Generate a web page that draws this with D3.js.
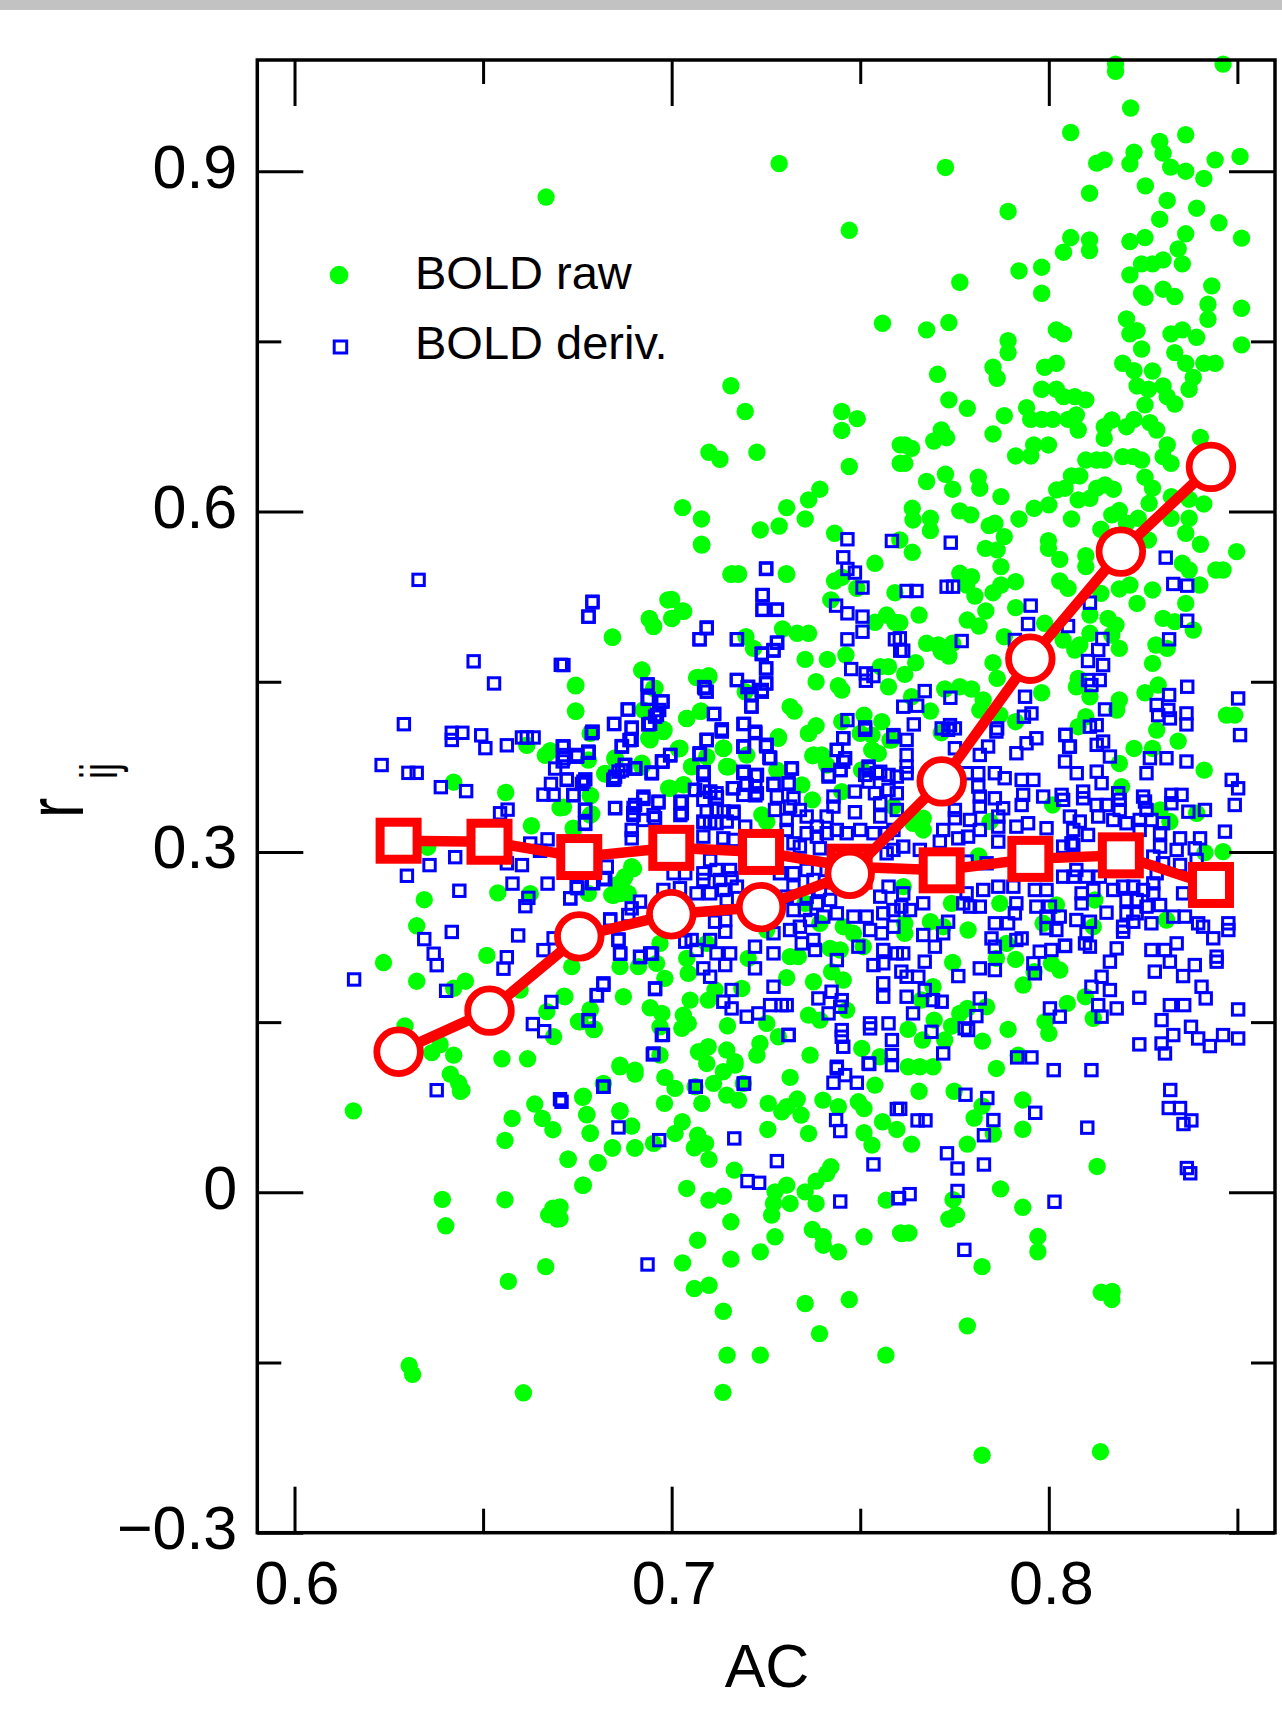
<!DOCTYPE html>
<html>
<head>
<meta charset="utf-8">
<title>r_ij vs AC</title>
<script src="https://cdn.jsdelivr.net/npm/d3@7"></script>
<style>
  html, body { margin: 0; padding: 0; background: #fff; }
  svg { display: block; }
  text { font-family: "Liberation Sans", Arial, sans-serif; fill: #000; }
</style>
</head>
<body>
<svg id="chart" width="1282" height="1717"></svg>
<script>
// values: [AC, r_ij]
const rawTop = [[.8177,.9944],[.8177,.9881],[.8462,.9944],[.8217,.9557],[.6667,.8772],[.7285,.9068],[.7471,.8479],[.7559,.766],[.7157,.7109],[.7195,.6882],[.7451,.6882],[.7492,.6819],[.7451,.6715],
[.7726,.9033],[.7892,.8645],[.8108,.8806],[.8058,.9341],[.8127,.9071],[.8147,.91],[.8215,.9065],[.8226,.9168],[.8294,.9262],[.8303,.9159],[.8363,.9321],[.8323,.9036],[.8363,.9],[.8441,.91],[.8411,.8936],[.8507,.913],[.8256,.8871],[.8314,.8742],[.8392,.8674],[.8294,.8577],[.8451,.8545],[.8363,.8448],[.8511,.841],[.8255,.8415],[.8215,.838],[.8058,.8415],[.8108,.8395],[.8108,.8301],[.8039,.8286],[.7981,.8154],[.7921,.8121],[.7764,.8021],[.7981,.7924],[.8343,.8315],[.8303,.8218],[.8275,.8183],[.8246,.8183],[.8354,.8183],[.8215,.8086],[.8432,.7989],[.8303,.796],[.8334,.7895],[.8246,.7924],[.8255,.7889],[.8422,.7827],[.8422,.7695],[.8511,.7792],[.8206,.7698],[.7735,.7666],[.7676,.7601],[.802,.7601],[.8039,.7566],[.8234,.7595],[.8215,.7566],[.8324,.7566],[.8354,.7601],[.8392,.7536],[.8246,.7433],[.8511,.7469],[.7892,.7507],[.7892,.7401],[.8334,.7401],[.8363,.7307],[.8196,.7307],[.8226,.7242],[.8275,.7239],[.8411,.7307],[.8441,.7307],[.802,.7307],[.7989,.7272],[.7852,.7272],[.7863,.7175],[.7705,.721],[.8383,.7183],[.8372,.7078],[.8303,.7107],[.8234,.7107],[.8264,.7078],[.8314,.7013],[.8255,.694],[.8334,.6948],[.7981,.7078],[.802,.7078],[.8039,.7013],[.8069,.7013],[.8098,.6984],[.7735,.6984],[.7784,.691],[.7941,.6916],[.7882,.6845],[.7952,.6813],[.7981,.6813],[.801,.6813],[.8051,.6813],[.8073,.6851],[.8078,.6719],[.7852,.6684],[.7715,.6719],[.7729,.6651],[.7695,.6622],[.7618,.6587],[.7636,.6557],[.8147,.6748],[.8167,.6807],[.8147,.6645],[.8206,.6748],[.8226,.6813],[.8268,.6784],[.8286,.6719],[.8402,.6654],[.8314,.6587],[.7999,.6587],[.796,.6587],[.7952,.649],[.7912,.649],[.7618,.6425],[.8098,.6454],[.8127,.6454],[.8147,.6454],[.8196,.6484],[.8224,.6484],[.8246,.6454],[.8303,.6484],[.8324,.6425]];

const rawUpperRight = [[.7676,.6265],[.7726,.6329],[.7745,.6197],[.7813,.6303],[.7817,.6206],[.7873,.6132],[.7638,.6029],[.764,.5926],[.7686,.5941],[.7686,.5832],[.7764,.6006],[.7793,.5971],[.7842,.5876],[.7857,.5897],[.7921,.5935],[.7882,.5779],[.7832,.5676],[.7863,.5662],[.7605,.575],[.7638,.5641],[.7961,.6029],[.8,.6059],[.8021,.6191],[.8043,.6206],[.806,.6314],[.8082,.6314],[.8078,.6103],[.8109,.6117],[.8127,.6206],[.8149,.6235],[.8171,.6197],[.806,.5935],[.8138,.5844],[.8167,.5971],[.8187,.6009],[.8237,.5941],[.8275,.6206],[.8255,.6303],[.8266,.6073],[.8325,.6132],[.8372,.6109],[.8411,.6067],[.8324,.5941],[.8372,.5941],[.8363,.5809],[.8402,.5712],[.8498,.5647],[.7999,.5744],[.7999,.5676],[.8029,.5579],[.8098,.5612],[.8098,.5515],[.8206,.5897],[.8264,.575],[.7764,.5456],[.7795,.5426],[.7782,.5353],[.7804,.5256],[.7852,.5285],[.7873,.5353],[.7912,.5382],[.7873,.5515],[.8029,.5388],[.8051,.5324],[.8187,.5318],[.8215,.5353],[.8275,.5309],[.8234,.5191],[.8354,.5544],[.8372,.5485],[.8443,.5485],[.8462,.5485],[.84,.5353],[.8363,.5191],[.8138,.5279],[.8109,.5088],[.8157,.5059],[.8178,.5],[.8167,.4912],[.8187,.4794],[.8109,.4927],[.8069,.478],[.8082,.4824],[.8038,.4868],[.7989,.5015],[.7912,.5153],[.7833,.5124],[.7784,.5044],[.7815,.4991],[.7656,.5088],[.7605,.5021],[.7882,.4897],[.7676,.4839],[.7707,.4824],[.7735,.4727],[.7715,.4765],[.7745,.4839],[.7647,.4668],[.7618,.4565],[.7852,.4668],[.7863,.453],[.8303,.5059],[.8334,.503],[.8383,.4956],[.8284,.4824],[.8314,.4794],[.8275,.4662],[.7724,.4436],[.7764,.4456],[.7795,.4436],[.7636,.4368],[.7686,.4242],[.7826,.4339],[.7817,.425],[.787,.4207],[.7912,.4148],[.7981,.4403],[.8078,.453],[.8073,.4456],[.8109,.4368],[.8187,.4339],[.818,.425],[.8098,.4192],[.8078,.4104],[.8255,.4403],[.829,.4471],[.8286,.4074],[.8471,.4206],[.8493,.4206],[.8226,.3912],[.8275,.3912],[.8343,.3977],[.7715,.4051],[.8412,.3721],[.8187,.378]];

const rawUpperMid = [[.7099,.6523],[.7128,.6461],[.7226,.6523],[.7471,.6397],[.7606,.6588],[.7606,.6426],[.7393,.6197],[.7363,.6103],[.7305,.6035],[.7354,.5935],[.7285,.5873],[.7235,.5838],[.7029,.6035],[.7079,.5935],[.7079,.5712],[.7432,.5809],[.7157,.5447],[.7177,.5447],[.7305,.5447],[.7539,.5544],[.7432,.5388],[.7451,.5421],[.7491,.5324],[.7422,.5221],[.7592,.5285],[.699,.5221],[.7029,.5124],[.7,.5059],[.6941,.5059],[.6952,.4991],[.6843,.4891],[.7294,.4965],[.7333,.4927],[.7363,.4927],[.7197,.4897],[.7217,.4794],[.7539,.5024],[.757,.5088],[.7592,.5024],[.7354,.4697],[.7413,.4697],[.7462,.4736],[.6921,.4603],[.6745,.4465],[.6952,.4442],[.7066,.4536],[.7099,.4545],[.7383,.45],[.7442,.4465],[.7451,.4427],[.7553,.4633],[.7575,.4633],[.7575,.4456],[.7195,.4412],[.6745,.4242],[.6925,.4251],[.704,.4177],[.7078,.4242],[.7314,.428],[.7325,.4242],[.7383,.4112],[.7363,.4045],[.751,.4206],[.7451,.4148],[.7557,.4148],[.75,.4045],[.7531,.403],[.7283,.4015],[.698,.4074],[.6941,.4001],[.6784,.4045],[.702,.3912],[.7137,.3912],[.7374,.3848],[.7398,.3848],[.7579,.3986],[.7531,.3898],[.7548,.3868],[.685,.3824],[.6779,.381],[.7199,.3854],[.7093,.3839],[.6823,.3692],[.6921,.3751],[.7053,.3751],[.7146,.3751],[.7411,.3766],[.7504,.3721],[.7279,.3721]];

const rawCentre = [[.6943,.3988],[.6978,.4061],[.7022,.3914],[.7137,.3914],[.7283,.4002],[.7363,.4047],[.7376,.3855],[.7398,.3855],[.7531,.39],[.7584,.3988],[.6823,.3688],[.685,.3817],[.6921,.3782],[.6996,.3561],[.7031,.3591],[.7146,.3753],[.7053,.3753],[.7345,.3591],[.7373,.3459],[.7451,.3532],[.7239,.3326],[.7252,.3267],[.6785,.3494],[.6788,.3335],[.6713,.3394],[.6739,.3209],[.7504,.3723],[.7588,.34],[.6894,.2871],[.6876,.2782],[.6854,.2709],[.6841,.2621],[.6885,.2635],[.6779,.2635],[.7354,.2547],[.7393,.2371],[.7455,.2341],[.7482,.2283],[.7508,.2165],[.742,.215],[.7447,.2136],[.7314,.2077],[.7336,.2077],[.7203,.2062],[.7252,.2312],[.704,.2062],[.7044,.193],[.6969,.2194],[.696,.2018],[.6912,.1989],[.6863,.1989],[.6735,.1989],[.6982,.1886],[.7093,.2194],[.7305,.1892],[.7376,.1856],[.7424,.1944],[.7455,.1871],[.6717,.1724],[.6872,.1724],[.7049,.1694],[.7097,.1694],[.7115,.1783],[.7186,.1797],[.6943,.1627],[.6974,.1577],[.7031,.1562],[.7044,.1489],[.7027,.1445],[.6969,.1459],[.7148,.1468],[.7252,.1489],[.7363,.1562],[.7393,.1518],[.7464,.1606],[.7283,.1371],[.6757,.1503],[.6784,.1606],[.6795,.1439],[.7504,.1268],[.7552,.1195],[.7367,.1209],[.7234,.1312],[.7226,.1209],[.7097,.1283],[.7071,.1239],[.7146,.1254],[.7168,.1151],[.7093,.1136],[.6969,.1209],[.6863,.1121],[.6903,.1077]];

const rawLowerRight = [[.8010,.3414],[.8193,.3576],[.8295,.337],[.8321,.3268],[.8392,.3341],[.7844,.3268],[.764,.3253],[.7667,.3194],[.7667,.3297],[.7814,.2965],[.8414,.2994],[.8462,.3003],[.7614,.2694],[.7742,.2547],[.787,.2547],[.802,.2533],[.8122,.2577],[.8312,.24],[.7686,.2385],[.7618,.2371],[.7618,.2283],[.772,.2341],[.7786,.2312],[.7888,.2194],[.7985,.2371],[.8118,.2341],[.7861,.2062],[.7912,.2053],[.7745,.2027],[.8007,.2018],[.8029,.1959],[.7961,.1945],[.7932,.1827],[.8097,.1724],[.8049,.1665],[.7693,.1812],[.7662,.1695],[.7835,.1636],[.7784,.1621],[.7764,.1577],[.7696,.1518],[.7742,.1465],[.8118,.1533],[.799,.1504],[.8,.1401],[.7892,.1436],[.7627,.1436],[.7665,.1342],[.7724,.1342],[.7824,.1333],[.7919,.1209],[.7627,.1107],[.7658,.1107],[.7693,.1107],[.7861,.1092]];

const rawLower = [[.6766,.0848],[.6863,.0719],[.6775,.0687],[.6784,.0519],[.6894,.0584],[.6819,.096],[.6903,.1042],[.6863,.1107],[.6982,.1013],[.7009,.0916],[.6981,.0784],[.708,.0784],[.7062,.0931],[.7111,.096],[.7146,.0857],[.7177,.0813],[.719,.096],[.7137,.1063],[.7168,.1122],[.7256,.0784],[.7292,.071],[.7305,.0754],[.7333,.0822],[.7343,.0681],[.7314,.1013],[.7401,.0813],[.7442,.0754],[.7495,.0798],[.751,.0739],[.7539,.0945],[.7255,.0554],[.7363,.0519],[.7559,.0622],[.7597,.0554],[.751,.0525],[.7531,.0416],[.7028,.0622],[.7009,.0519],[.6952,.0431],[.6903,.0393],[.6843,.0393],[.706,.0393],[.7069,.0504],[.709,.0431],[.7099,.029],[.6726,.0293],[.6804,.026],[.6766,.0063],[.7166,.0196],[.704,.0034],[.7099,-.0069],[.7137,-.0034],[.7157,-.026],[.7069,-.0422],[.7157,-.0589],[.7029,-.0622],[.7235,-.0525],[.7274,-.0392],[.706,-.0848],[.7099,-.0819],[.7137,-.1048],[.7354,-.098],[.7471,-.0945],[.7392,-.1245],[.7373,-.0328],[.7402,-.0392],[.7402,-.0466],[.7442,-.0525],[.751,-.0392],[.761,-.0363],[.7305,.0063],[.7274,.0004],[.7354,.0004],[.7383,.0099],[.7422,.0225],[.7411,.0166],[.7383,-.0098],[.7314,-.0098],[.727,-.0098],[.7265,-.0201],[.7569,-.0069],[.6704,-.0231],[.6704,-.0128],
[.6156,.0718],[.6392,-.0062],[.6401,-.0295],[.6304,-.1527],[.6313,-.1604],[.6607,-.1767],[.6567,-.0785],[.6666,-.0655],[.6558,-.0065],[.6685,-.014],[.6674,-.0199],[.6697,-.0235],[.6764,.0062],[.6558,.0457],[.6577,.0651],[.6637,.0778],[.6657,.0651],[.6685,.0552],[.6784,.0524],[.6725,.0291],[.6805,.026],[.6843,.039],[.6902,.039],[.6775,.0683],[.6863,.0715],[.6764,.0838],[.644,.0891],
[.7607,-.0358],[.7629,-.0358],[.7636,.0425],[.7746,-.0065],[.7755,-.0199],[.7735,-.0235],[.7823,-.0655],[.7784,-.1177],[.7823,-.2317],[.8137,-.2286],[.8139,-.0881],[.8168,-.0874],[.8167,-.0944],[.8128,.0228],[.7971,-.039],[.7971,-.0524],[.7931,-.0132],[.7872,.003],[.7931,.0556],[.7853,.0514],[.7784,.0425],[.7802,.0655],[.7823,.0761],[.7931,.0814],[.7656,.0891],[.7749,.0891],[.7568,-.1435],[.7235,-.1435],[.7147,-.1435],[.7136,-.1763]];

const rawLeft = [[.6293,.1467],[.6236,.2025],[.6344,.2579],[.6324,.2349],[.6324,.1861],[.6422,.3615],[.6353,.3042],[.656,.3524],[.6628,.3231],[.6539,.2639],[.6625,.2632],[.651,.2088],[.6453,.1861],[.6422,.1798],[.6598,.1782],[.6422,.1209],[.6386,.1303],[.6364,.1231],[.6413,.1042],[.6435,.0963],[.6444,.09],[.655,.1177],[.6618,.1177],[.6669,.1593],[.6687,.1372],[.6784,.1609],[.6753,.1505],[.6793,.1435],[.6715,.1728],[.6746,.4469],[.6746,.4239],[.6616,.394],[.6678,.3892],[.6665,.3852],[.6843,.4894],[.7,.5225],[.6941,.5052],[.6952,.4986],[.7001,.5058],[.7032,.5121],[.708,.5704],[.716,.5452],[.7177,.5452],[.7304,.5452],[.6921,.4601],[.6956,.4444],[.7071,.4538],[.7098,.4554],[.704,.4176],[.7076,.4239],[.6978,.4081],[.6939,.4003],[.7018,.3908],[.7138,.3915],[.7151,.3751],[.685,.3829],[.6921,.3766],[.6824,.3688],[.6992,.3562],[.7032,.3593],[.6784,.3499],[.6704,.3388],[.6784,.3325],[.674,.3199],[.6899,.2853],[.6872,.2759],[.6864,.2633],[.6846,.2617]];

const derivLeft = [[.6329,.5398],[.679,.5206],[.678,.5074],[.7251,.5499],[.7241,.5263],[.7241,.5137],[.7279,.5137],[.7093,.4979],[.7074,.4875],[.7173,.4875],[.7279,.4844],[.727,.4774],[.7239,.4743],[.7251,.4617],[.7173,.4516],[.7251,.4485],[.7201,.4453],[.7239,.4428],[.7211,.439],[.7211,.4286],[.6475,.468],[.6529,.4485],[.6706,.4649],[.6936,.4475],[.6939,.4349],[.6976,.4327],[.6961,.4207],[.7086,.4453],[.7093,.4412],[.6883,.4255],[.6848,.4129],[.6894,.4097],[.6943,.4129],[.689,.3987],[.6868,.393],[.7113,.4217],[.7133,.4081],[.7192,.4129],[.7222,.405],[.7192,.393],[.7251,.393],[.7261,.383],[.7093,.3987],[.7074,.3861],[.6996,.3851],[.6976,.3798],[.6948,.3697],[.6903,.3735],[.6877,.3766],[.6868,.3719],[.7085,.3703],[.7085,.3577],[.7191,.3703],[.7222,.3672],[.7319,.3735],[.731,.36],[.727,.36],[.7222,.3577],[.7222,.3499],[.7162,.3562],[.7062,.3546],[.7102,.353],[.712,.3483],[.6848,.364],[.629,.4126],[.6417,.405],[.6417,.3987],[.6445,.405],[.6495,.4028],[.6506,.3915],[.6563,.394],[.6603,.4009],[.6616,.4009],[.6634,.4009],[.6711,.393],[.6711,.3798],[.675,.3845],[.678,.3877],[.679,.4059],[.6691,.3735],[.668,.36],[.6722,.364],[.6771,.364],[.6762,.36],[.666,.3505],[.6687,.3505],[.674,.3499],[.6231,.3766],[.6302,.3697],[.6324,.3697],[.6388,.3571],[.6455,.3536],[.6545,.3341],[.6565,.3373],[.6771,.3373],[.6771,.3247],[.685,.3388],[.6925,.3467],[.6965,.3436],[.6899,.3388],[.6899,.3325],[.6952,.3325],[.7023,.3436],[.7023,.3325],[.7085,.3262],[.7102,.3262],[.7138,.3357],[.7164,.3341],[.6625,.3074],[.6671,.3111],[.6651,.301],[.6426,.2954],[.6358,.2884],[.6298,.279],[.6563,.29],[.6603,.2884],[.6437,.2658],[.6578,.2721],[.6671,.2721],[.662,.2595],[.6612,.2522],[.675,.268],[.6731,.2591],[.6788,.2727],[.6824,.2759],[.6417,.2295],[.6344,.2232],[.6369,.2103],[.6377,.2002],[.6593,.2264],[.6563,.2072],[.6554,.1971],[.666,.2135],[.6687,.2239],[.6158,.1876],[.6402,.1776],[.6819,.1829],[.6802,.1735],[.6681,.1678],[.6956,.1791],[.6632,.1483],[.6662,.142],[.678,.1514],[.6977,.1388],[.695,.1215],[.6377,.09],[.6819,.0931],[.7064,.0931],[.7191,.0957],[.731,.1388],[.6704,.0821],[.6859,.2229],[.6864,.2103],[.6917,.2072],[.6948,.2103],[.6837,.2406]];

const derivCentre = [[.6788,.4047],[.6894,.3988],[.6868,.3929],[.7075,.387],[.7093,.3988],[.7133,.4061],[.7221,.4047],[.719,.3929],[.7252,.3944],[.7261,.3826],[.6996,.3855],[.6974,.3797],[.6876,.3767],[.6859,.3708],[.6903,.3738],[.6947,.37],[.6845,.3635],[.6713,.3929],[.6748,.3855],[.6779,.3885],[.6713,.3826],[.6722,.3635],[.6766,.362],[.6739,.3503],[.677,.337],[.677,.3253],[.685,.3385],[.7084,.3694],[.7062,.3547],[.7102,.3532],[.7119,.3517],[.7084,.3459],[.7119,.337],[.7027,.3444],[.7027,.3341],[.6925,.3488],[.6903,.3414],[.6965,.3444],[.6898,.3341],[.6956,.3297],[.6925,.3282],[.6894,.3194],[.6894,.312],[.7164,.3561],[.719,.3694],[.7226,.3679],[.7199,.3591],[.7226,.3517],[.719,.3503],[.727,.3591],[.731,.3606],[.7318,.3738],[.7279,.3488],[.7323,.3473],[.7274,.337],[.7314,.34],[.734,.337],[.7164,.3356],[.7093,.3356],[.7084,.3268],[.7119,.3253],[.7146,.3268],[.7195,.3223],[.7137,.312],[.7164,.3106],[.7084,.3135],[.7305,.3194],[.7305,.3282],[.7358,.3312],[.7385,.3223],[.7411,.3312],[.7429,.34],[.7429,.3488],[.7358,.3165],[.7385,.3135],[.7411,.3165],[.7438,.3194],[.7464,.3165],[.75,.3194],[.7535,.3165],[.757,.3165],[.7323,.3076],[.734,.3047],[.7393,.3032],[.7486,.335],[.7486,.3532],[.7539,.3517],[.7522,.3753],[.7513,.3679],[.7544,.3694],[.7522,.362],[.7575,.3679],[.7597,.3664],[.7575,.3547],[.7597,.3517],[.7553,.3429],[.7553,.3312],[.7597,.337],[.7588,.3194],[.7455,.4002],[.7438,.39],[.746,.3826],[.7447,.3723],[.7416,.3664],[.7513,.4076],[.7588,.4017],[.7588,.3018],[.757,.2988],[.6828,.2871],[.6819,.2768],[.6748,.2694],[.6731,.2591],[.6792,.2724],[.7005,.2812],[.7036,.2812],[.7084,.2812],[.7119,.2841],[.7155,.2841],[.7102,.2929],[.6978,.2665],[.7022,.268],[.7066,.2635],[.7102,.2635],[.7137,.2665],[.7173,.2694],[.7146,.2576],[.7084,.2753],[.7128,.2753],[.7159,.2768],[.6916,.2562],[.6894,.2503],[.6885,.2444],[.6837,.24],[.6859,.2224],[.6863,.2106],[.6943,.2106],[.6916,.2077],[.6819,.1842],[.6801,.1739],[.6779,.1518],[.6956,.1798],[.6974,.1386],[.6952,.1224],[.7053,.2224],[.7036,.2209],[.7066,.2136],[.7102,.2224],[.7119,.2106],[.7155,.2106],[.7142,.2003],[.7084,.1974],[.7102,.19],[.7115,.2385],[.7142,.24],[.7142,.2297],[.7221,.2165],[.7221,.1974],[.727,.2106],[.727,.1812],[.7159,.1783],[.7137,.168],[.7159,.1621],[.7199,.1548],[.723,.1577],[.7261,.165],[.7292,.165],[.7305,.165],[.731,.1386],[.727,.2283],[.7314,.2312],[.734,.2341],[.7367,.24],[.7402,.243],[.7323,.2488],[.7354,.2488],[.7385,.2547],[.742,.2577],[.7438,.2459],[.7358,.2606],[.7393,.2665],[.7287,.2812],[.7323,.2812],[.7358,.2841],[.7376,.2753],[.7323,.2694],[.7305,.2606],[.7411,.2841],[.7345,.2194],[.7376,.2224],[.738,.2136],[.7438,.2047],[.7495,.2165],[.7482,.243],[.7517,.243],[.7526,.2312],[.7557,.2283],[.7588,.2341],[.7561,.2459],[.7588,.2488],[.7553,.2606],[.7575,.2694],[.7561,.2136],[.7535,.2003],[.7561,.2018],[.7597,.2106],[.7561,.1842],[.7561,.1724],[.7389,.1709],[.7424,.1768],[.7416,.1577],[.7451,.1694],[.7447,.1636],[.7575,.1489],[.7526,.1445],[.7526,.1489],[.7451,.143],[.7451,.1371],[.7455,.1283],[.7584,.1342],[.7584,.1209],[.7584,.1121],[.7438,.1107],[.7522,.1136]];

const derivLower = [[.6708,.0798],[.6819,.0931],[.7064,.0931],[.7192,.096],[.6859,.0572],[.6967,.046],[.7166,.0475],[.6936,-.0636],[.7279,.0275],[.7201,.0099],[.7232,.0084],[.7447,-.0081],[.7535,.0246],[.7436,.0637],[.7447,.054],[.7597,.0734],[.7601,-.0051],[.7438,.1092],[.746,.1033],[.7429,.0966],[.7491,.0966],[.7524,.1131],
[.7776,-.0507],[.8015,-.0083],[.7631,-.0016],[.7603,-.0051],[.7758,.0012],[.773,.0344],[.7758,.021],[.7828,.0245],[.7828,.0503],[.7853,.0637],[.7964,.0701],[.8102,.057],[.7779,.086],[.7837,.0831],[.7606,.0736],[.7652,.0634],[.7673,.0634],[.8318,.0743],[.8348,.0743],[.8357,.0602],[.8378,.0634],[.8366,.0214],[.8375,.0168],[.8322,.0902]];

const derivRight = [[.7623,.3988],[.7623,.3855],[.7623,.3753],[.7623,.3694],[.7733,.4076],[.7751,.3914],[.7817,.3855],[.7839,.3929],[.7861,.4061],[.7914,.387],[.7941,.3958],[.7967,.4002],[.8044,.4032],[.8056,.3929],[.8043,.3797],[.8074,.3694],[.8127,.3944],[.8144,.3973],[.8162,.3841],[.8127,.3708],[.814,.3606],[.8268,.3826],[.8312,.3826],[.8365,.3797],[.8259,.3694],[.8485,.3635],[.8502,.3561],[.8493,.3414],[.8467,.3179],[.7782,.3694],[.7813,.3694],[.7857,.3694],[.7883,.365],[.7928,.3635],[.7959,.3635],[.7813,.3576],[.7817,.3488],[.7857,.3473],[.7817,.34],[.7879,.3385],[.7932,.3503],[.7928,.3414],[.7985,.3488],[.8034,.3503],[.8038,.3459],[.8091,.3532],[.8091,.3473],[.8127,.3414],[.8153,.3414],[.8184,.3517],[.8188,.3459],[.8188,.337],[.825,.3488],[.8255,.3444],[.8259,.337],[.8325,.3503],[.8352,.3503],[.8325,.3429],[.837,.3355],[.8414,.337],[.7751,.337],[.7751,.3297],[.7791,.3282],[.772,.3194],[.7711,.3091],[.776,.312],[.7786,.3135],[.7817,.3194],[.7866,.3312],[.7866,.3223],[.7866,.3091],[.7914,.3223],[.7945,.3253],[.7994,.3209],[.8056,.3312],[.8065,.3194],[.8104,.315],[.8131,.3312],[.8082,.3268],[.8065,.3062],[.806,.3076],[.8171,.3282],[.8206,.3253],[.8241,.3282],[.8272,.3282],[.8303,.3253],[.8241,.3194],[.8295,.3165],[.8348,.312],[.8401,.312],[.8295,.3047],[.8339,.3018],[.8387,.3032],[.8392,.2929],[.8348,.2885],[.8277,.2959],[.8303,.29],[.8286,.2812],[.7614,.3047],[.7658,.3018],[.7782,.2915],[.7835,.29],[.8038,.3047],[.8038,.2782],[.8065,.2782],[.81,.2782],[.8073,.2841],[.8135,.2782],[.7614,.2635],[.7667,.2547],[.7632,.2488],[.7609,.2518],[.7782,.2635],[.7773,.2547],[.7791,.2518],[.7817,.2518],[.7826,.2665],[.7866,.2694],[.7906,.2694],[.7914,.2547],[.791,.2459],[.7963,.2665],[.7994,.2665],[.7967,.2518],[.8003,.2518],[.8029,.243],[.7994,.243],[.802,.2312],[.7994,.2327],[.8087,.2635],[.8087,.2547],[.8073,.24],[.8109,.2385],[.81,.2283],[.8096,.2194],[.8109,.2165],[.8153,.2465],[.8171,.2665],[.8118,.2665],[.8197,.2694],[.8224,.2694],[.825,.2665],[.8206,.2576],[.8233,.2576],[.8259,.2518],[.8295,.2532],[.8206,.2459],[.8233,.2459],[.8224,.2385],[.8197,.2341],[.8197,.2297],[.8272,.2371],[.8277,.2635],[.8277,.2723],[.8356,.2635],[.833,.243],[.8361,.243],[.8396,.2371],[.8409,.2341],[.8476,.2371],[.8476,.2312],[.8436,.2239],[.8445,.2077],[.8445,.2033],[.8339,.2194],[.8308,.2136],[.8272,.2136],[.8321,.2033],[.8387,.2003],[.8281,.1945],[.8356,.1906],[.818,.215],[.8162,.2033],[.814,.19],[.8113,.1812],[.8162,.1783],[.8131,.165],[.814,.1548],[.818,.1621],[.8043,.2174],[.7963,.193],[.7959,.2018],[.7976,.2121],[.8007,.2136],[.8043,.2171],[.7914,.2224],[.7928,.2238],[.7857,.2165],[.7848,.2238],[.7857,.2371],[.7892,.2371],[.7817,.1974],[.7857,.1959],[.776,.1906],[.7733,.2385],[.772,.2283],[.7667,.2268],[.7698,.2165],[.7671,.2033],[.7614,.2106],[.7623,.19],[.7654,.19],[.7609,.1945],[.7671,.1783],[.7623,.1724],[.7693,.1694],[.7716,.168],[.764,.1577],[.7817,.1709],[.7808,.1553],[.7777,.1445],[.7786,.143],[.7689,.1415],[.772,.1224],[.7916,.1189],[.7954,.1189],[.8003,.1621],[.8029,.1548],[.824,.1715],[.8321,.165],[.8359,.165],[.8416,.1709],[.8405,.1812],[.8299,.1518],[.833,.1386],[.8299,.1312],[.8308,.1224],[.824,.1304],[.8377,.1459],[.8396,.1356],[.8427,.1289],[.8462,.1386],[.8502,.1356],[.8502,.1612],[.8013,.1077],[.8113,.1077]];

const derivUpperRight = [[.774,.5726],[.7623,.53],[.7649,.53],[.7729,.5338],[.7746,.5338],[.7952,.5171],[.7945,.5009],[.8051,.4991],[.8109,.5197],[.7769,.4859],[.7614,.4774],[.7605,.4883],[.791,.4868],[.8142,.4877],[.8131,.478],[.8104,.4683],[.8144,.4647],[.8104,.4515],[.8135,.4515],[.8113,.4471],[.831,.5594],[.833,.5362],[.8367,.5347],[.8367,.5038],[.8319,.4874],[.7937,.4368],[.7954,.4221],[.7934,.4192],[.7671,.4418],[.7651,.4289],[.7642,.4124],[.7739,.4359],[.7716,.4089],[.7738,.4118],[.7751,.4089],[.7863,.4089],[.8149,.4256],[.8127,.4118],[.8109,.4104],[.8044,.403],[.8054,.3927],[.8367,.4456],[.8319,.4383],[.8286,.4295],[.8317,.4251],[.829,.4206],[.8321,.4177],[.8365,.4221],[.8365,.4124],[.8502,.4353],[.8507,.403],[.7614,.428]];

const derivUpperMid = [[.7466,.5756],[.7584,.5741],[.7455,.5597],[.7466,.5494],[.7486,.5462],[.7506,.533],[.725,.5494],[.7241,.5265],[.7241,.5133],[.7279,.5133],[.679,.52],[.6779,.5074],[.7436,.5171],[.7466,.5103],[.7506,.5074],[.7506,.4941],[.7466,.4874],[.7093,.4971],[.7074,.4874],[.7173,.4874],[.728,.4844],[.727,.478],[.7239,.475],[.725,.4618],[.725,.4486],[.7173,.4515],[.7203,.4456],[.7239,.4412],[.7212,.4383],[.7212,.428],[.7088,.4442],[.7476,.4612],[.7515,.4574],[.7535,.455],[.7515,.4509],[.7592,.4874],[.7606,.4774],[.6936,.4477],[.6936,.4353],[.6975,.4324],[.6967,.4251],[.6885,.4256],[.6847,.4127],[.6894,.4089],[.6938,.4124],[.6956,.4192],[.6888,.3986],[.6868,.3933],[.679,.4059],[.7112,.4215],[.7133,.4074],[.7093,.3986],[.719,.4127],[.7221,.406],[.719,.3927],[.725,.3942],[.6996,.3854],[.6975,.3795],[.7074,.3868],[.7259,.3833],[.7466,.4162],[.7513,.4098],[.7455,.4001],[.7438,.3898],[.7455,.3795],[.7588,.403],[.6713,.4647],[.6713,.3927],[.6748,.3839],[.6779,.3874],[.6715,.3854],[.6876,.3765],[.6903,.3736],[.685,.3663],[.6947,.3692],[.7318,.3736],[.7416,.3677],[.7522,.3736],[.7553,.3707],[.7084,.3692],[.719,.3707],[.7226,.3677],[.7448,.3721]];

const rawPoints = [].concat(rawTop, rawUpperRight, rawUpperMid, rawCentre, rawLowerRight, rawLower, rawLeft);
const derivPoints = [].concat(derivLeft, derivCentre, derivLower, derivRight, derivUpperRight, derivUpperMid);

// binned means (red curves)
const binAC = [.6276, .6517, .6755, .6999, .7237, .7472, .7716, .7951, .8191, .843];
const meanRaw = [.1239, .1601, .2256, .2451, .2514, .2807, .3622, .4703, .5647, .6394];
const meanDeriv = [.3099, .309, .2955, .3036, .300, .287, .2838, .2939, .297, .2709];

const xMajor = [.6, .7, .8];
const xMinor = [.65, .75, .85];
const yMajor = [-.3, 0, .3, .6, .9];
const yMinor = [-.15, .15, .45, .75];
const legendLabels = ['BOLD raw', 'BOLD deriv.'];

const svg = d3.select('#chart');
const frameLeft = 257.3, frameRight = 1275, frameTop = 60, frameBottom = 1532.7;

const xScale = d3.scaleLinear().domain([.59, .86]).range([256.8, 1275.1]);
const yScale = d3.scaleLinear().domain([-.3, .998]).range([frameBottom, frameTop]);

// grey strip at the top of the page
svg.append('rect').attr('width', 1282).attr('height', 10).attr('fill', '#c1c2c1');

// scatter
const plot = svg.append('g');
plot.selectAll('circle.raw').data(rawPoints).enter().append('circle')
  .attr('class', 'raw')
  .attr('cx', d => xScale(d[0]))
  .attr('cy', d => yScale(d[1]))
  .attr('r', 8.7)
  .attr('fill', '#00ff00');

plot.selectAll('rect.deriv').data(derivPoints).enter().append('rect')
  .attr('class', 'deriv')
  .attr('x', d => xScale(d[0]) - 5.7)
  .attr('y', d => yScale(d[1]) - 5.7)
  .attr('width', 11.4)
  .attr('height', 11.4)
  .attr('fill', 'none')
  .attr('stroke', '#0000ff')
  .attr('stroke-width', 3);

// axes: ticks point inwards on all four sides
function drawTicks(gen, tx, ty, values, len, labelled){
  const g = svg.append('g')
    .attr('transform', `translate(${tx},${ty})`)
    .call(gen.tickValues(values).tickSize(-len).tickFormat(labelled ? d3.format('.1f') : ''));
  g.select('.domain').remove();
  g.selectAll('line').attr('stroke', '#000').attr('stroke-width', 3);
  return g;
}
const zeroFmt = d => d === 0 ? '0' : d3.format('.1f')(d);

const bottomMajor = drawTicks(d3.axisBottom(xScale), 0, frameBottom, xMajor, 46, true);
bottomMajor.selectAll('text')
  .attr('font-size', 61).attr('y', 71).attr('dy', 0).attr('dx', 2);
drawTicks(d3.axisBottom(xScale), 0, frameBottom, xMinor, 24, false);
drawTicks(d3.axisTop(xScale), 0, frameTop, xMajor, 46, false);
drawTicks(d3.axisTop(xScale), 0, frameTop, xMinor, 24, false);

const leftMajor = drawTicks(d3.axisLeft(yScale), frameLeft, 0, yMajor, 46, true);
leftMajor.selectAll('text')
  .text(zeroFmt)
  .attr('font-size', 61).attr('x', -20).attr('dy', 16);
drawTicks(d3.axisLeft(yScale), frameLeft, 0, yMinor, 24, false);
drawTicks(d3.axisRight(yScale), frameRight, 0, yMajor, 46, false);
drawTicks(d3.axisRight(yScale), frameRight, 0, yMinor, 24, false);

svg.append('rect')
  .attr('x', frameLeft).attr('y', frameTop)
  .attr('width', frameRight - frameLeft).attr('height', frameBottom - frameTop)
  .attr('fill', 'none').attr('stroke', '#000').attr('stroke-width', 3.5);

// red curves
const line = d3.line().x(d => xScale(d[0])).y(d => yScale(d[1]));
const derivMean = binAC.map((a, i) => [a, meanDeriv[i]]);
const rawMean = binAC.map((a, i) => [a, meanRaw[i]]);

svg.append('path').attr('d', line(derivMean))
  .attr('fill', 'none').attr('stroke', '#ff0000').attr('stroke-width', 10.5);
svg.selectAll('rect.mean').data(derivMean).enter().append('rect')
  .attr('class', 'mean')
  .attr('x', d => xScale(d[0]) - 18.5)
  .attr('y', d => yScale(d[1]) - 18.5)
  .attr('width', 37).attr('height', 37)
  .attr('fill', '#fff').attr('stroke', '#ff0000').attr('stroke-width', 9);

svg.append('path').attr('d', line(rawMean))
  .attr('fill', 'none').attr('stroke', '#ff0000').attr('stroke-width', 10.5);
svg.selectAll('circle.mean').data(rawMean).enter().append('circle')
  .attr('class', 'mean')
  .attr('cx', d => xScale(d[0]))
  .attr('cy', d => yScale(d[1]))
  .attr('r', 21.8)
  .attr('fill', '#fff').attr('stroke', '#ff0000').attr('stroke-width', 6.8);

// legend
svg.append('circle').attr('cx', 339).attr('cy', 275).attr('r', 9.3).attr('fill', '#00ff00');
svg.append('rect').attr('x', 334.2).attr('y', 341).attr('width', 12.5).attr('height', 12)
  .attr('fill', 'none').attr('stroke', '#0000ff').attr('stroke-width', 3);
svg.selectAll('text.legend').data(legendLabels).enter().append('text')
  .attr('class', 'legend')
  .attr('x', 415)
  .attr('y', (d, i) => 288.6 + i * 70.4)
  .attr('font-size', 47)
  .text(d => d);

// axis titles
svg.append('text').attr('x', 767).attr('y', 1687)
  .attr('text-anchor', 'middle').attr('font-size', 61).text('AC');
svg.append('text')
  .attr('transform', 'translate(83,818) rotate(-90) scale(1,1.3)')
  .attr('font-size', 61).text('r');
svg.append('text')
  .attr('transform', 'translate(117,779) rotate(-90) scale(1,1.45)')
  .attr('font-size', 36).text('ij');
</script>
</body>
</html>
